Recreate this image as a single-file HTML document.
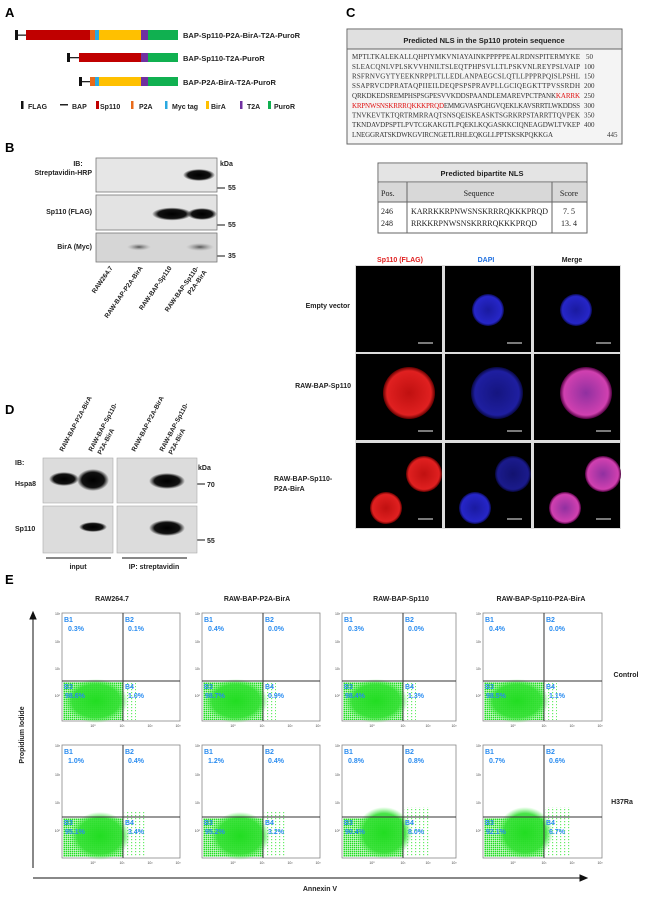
<!DOCTYPE html>
<html><head><meta charset="utf-8"><style>
html,body{margin:0;padding:0;background:#fff;}
svg{display:block;font-family:"Liberation Sans",Arial,sans-serif;}
.b{font-weight:bold;}
.seq{font-family:"Liberation Serif",serif;font-size:7px;fill:#333;}
.q{fill:#2a8cf0;font-size:7px;font-weight:bold;}
.tk{font-size:3.5px;fill:#444;}
</style></head><body>
<svg width="650" height="898" viewBox="0 0 650 898" xmlns="http://www.w3.org/2000/svg">
<defs>
 <pattern id="dots" width="2" height="2" patternUnits="userSpaceOnUse">
  <rect x="0" y="0" width="1.5" height="1.5" fill="#22dd22"/>
 </pattern>
 <pattern id="sdots" width="4" height="3" patternUnits="userSpaceOnUse">
  <rect x="1" y="1" width="1.2" height="1.2" fill="#66ee66"/>
 </pattern>
 <radialGradient id="gcore" cx="0.5" cy="0.5" r="0.5">
  <stop offset="0" stop-color="#22dd22" stop-opacity="1"/>
  <stop offset="0.75" stop-color="#33e033" stop-opacity="0.9"/>
  <stop offset="1" stop-color="#55ee55" stop-opacity="0"/>
 </radialGradient>
 <radialGradient id="red" cx="0.5" cy="0.5" r="0.5">
  <stop offset="0" stop-color="#c01010"/><stop offset="0.85" stop-color="#e02020"/><stop offset="1" stop-color="#600000"/>
 </radialGradient>
 <radialGradient id="blue" cx="0.5" cy="0.5" r="0.5">
  <stop offset="0" stop-color="#1a1aa0"/><stop offset="0.85" stop-color="#2626c8"/><stop offset="1" stop-color="#0a0a50"/>
 </radialGradient>
 <radialGradient id="mag" cx="0.5" cy="0.5" r="0.5">
  <stop offset="0" stop-color="#9030a0"/><stop offset="0.85" stop-color="#d040b0"/><stop offset="1" stop-color="#500040"/>
 </radialGradient>
 <radialGradient id="band" cx="0.5" cy="0.5" r="0.5">
  <stop offset="0" stop-color="#000"/><stop offset="0.7" stop-color="#111"/><stop offset="1" stop-color="#111" stop-opacity="0"/>
 </radialGradient>
 <radialGradient id="fband" cx="0.5" cy="0.5" r="0.5">
  <stop offset="0" stop-color="#555"/><stop offset="1" stop-color="#999" stop-opacity="0"/>
 </radialGradient>
</defs>

<!-- Panel A -->
<text x="5" y="17" class="b" font-size="13">A</text>
<g>
 <rect x="15" y="30" width="3" height="10" fill="#111"/><rect x="18" y="34.5" width="8" height="1.3" fill="#222"/>
 <rect x="26" y="30" width="64" height="10" fill="#c00000"/><rect x="90" y="30" width="5" height="10" fill="#e86a1a"/>
 <rect x="95" y="30" width="4" height="10" fill="#2aa8e0"/><rect x="99" y="30" width="42" height="10" fill="#ffc000"/>
 <rect x="141" y="30" width="7" height="10" fill="#7030a0"/><rect x="148" y="30" width="30" height="10" fill="#10b050"/>
 <text x="183" y="38" class="b" font-size="7.5" fill="#222">BAP-Sp110-P2A-BirA-T2A-PuroR</text>

 <rect x="67" y="53" width="3" height="9" fill="#111"/><rect x="70" y="57" width="9" height="1.3" fill="#222"/>
 <rect x="79" y="53" width="62" height="9" fill="#c00000"/><rect x="141" y="53" width="7" height="9" fill="#7030a0"/>
 <rect x="148" y="53" width="30" height="9" fill="#10b050"/>
 <text x="183" y="61" class="b" font-size="7.5" fill="#222">BAP-Sp110-T2A-PuroR</text>

 <rect x="79" y="77" width="3" height="9" fill="#111"/><rect x="82" y="81" width="8" height="1.3" fill="#222"/>
 <rect x="90" y="77" width="5" height="9" fill="#e86a1a"/><rect x="95" y="77" width="4" height="9" fill="#2aa8e0"/>
 <rect x="99" y="77" width="42" height="9" fill="#ffc000"/><rect x="141" y="77" width="7" height="9" fill="#7030a0"/>
 <rect x="148" y="77" width="30" height="9" fill="#10b050"/>
 <text x="183" y="85" class="b" font-size="7.5" fill="#222">BAP-P2A-BirA-T2A-PuroR</text>

 <g class="b" font-size="7" fill="#222">
  <rect x="21" y="101" width="2.5" height="8" fill="#111"/><text x="28" y="109">FLAG</text>
  <rect x="60" y="104" width="8" height="1.5" fill="#222"/><text x="72" y="109">BAP</text>
  <rect x="96" y="101" width="3" height="8" fill="#c00000"/><text x="100" y="109">Sp110</text>
  <rect x="131" y="101" width="2.5" height="8" fill="#e86a1a"/><text x="139" y="109">P2A</text>
  <rect x="165" y="101" width="2.5" height="8" fill="#2aa8e0"/><text x="172" y="109">Myc tag</text>
  <rect x="206" y="101" width="3" height="8" fill="#ffc000"/><text x="211" y="109">BirA</text>
  <rect x="240" y="101" width="2.5" height="8" fill="#7030a0"/><text x="247" y="109">T2A</text>
  <rect x="268" y="101" width="3" height="8" fill="#10b050"/><text x="274" y="109">PuroR</text>
 </g>
</g>

<!-- Panel B -->
<text x="5" y="152" class="b" font-size="13">B</text>
<g class="b" font-size="7" fill="#222">
 <text x="78" y="166" text-anchor="middle">IB:</text>
 <text x="92" y="175" text-anchor="end">Streptavidin-HRP</text>
 <text x="92" y="214" text-anchor="end">Sp110 (FLAG)</text>
 <text x="92" y="249" text-anchor="end">BirA (Myc)</text>
 <text x="220" y="166">kDa</text>
 <text x="228" y="190">55</text><text x="228" y="227">55</text><text x="228" y="258">35</text>
</g>
<g stroke="#111" stroke-width="1"><line x1="217" y1="188" x2="225" y2="188"/><line x1="217" y1="225" x2="225" y2="225"/><line x1="217" y1="256" x2="225" y2="256"/></g>
<rect x="96" y="158" width="121" height="34" fill="#e6e6e6" stroke="#777" stroke-width="0.8"/>
<rect x="96" y="195" width="121" height="35" fill="#e3e3e3" stroke="#777" stroke-width="0.8"/>
<rect x="96" y="233" width="121" height="29" fill="#d6d6d6" stroke="#777" stroke-width="0.8"/>
<ellipse cx="199" cy="175" rx="16" ry="6" fill="url(#band)"/>
<ellipse cx="172" cy="214" rx="20" ry="6.5" fill="url(#band)"/>
<ellipse cx="202" cy="214" rx="15" ry="6" fill="url(#band)"/>
<ellipse cx="139" cy="247" rx="12" ry="3.5" fill="url(#fband)"/>
<ellipse cx="200" cy="247" rx="14" ry="4" fill="url(#fband)"/>
<g class="b" font-size="6.5" fill="#222">
 <text transform="translate(113,268) rotate(-55)" text-anchor="end">RAW264.7</text>
 <text transform="translate(143,268) rotate(-55)" text-anchor="end">RAW-BAP-P2A-BirA</text>
 <text transform="translate(172,268) rotate(-55)" text-anchor="end">RAW-BAP-Sp110</text>
 <text transform="translate(199,268) rotate(-55)" text-anchor="end">RAW-BAP-Sp110-</text>
 <text transform="translate(207,272) rotate(-55)" text-anchor="end">P2A-BirA</text>
</g>

<!-- Panel D -->
<text x="5" y="414" class="b" font-size="13">D</text>
<g class="b" font-size="6.5" fill="#222">
 <text transform="translate(63,452) rotate(-62)">RAW-BAP-P2A-BirA</text>
 <text transform="translate(92,452) rotate(-62)">RAW-BAP-Sp110-</text>
 <text transform="translate(101,455) rotate(-62)">P2A-BirA</text>
 <text transform="translate(135,452) rotate(-62)">RAW-BAP-P2A-BirA</text>
 <text transform="translate(163,452) rotate(-62)">RAW-BAP-Sp110-</text>
 <text transform="translate(172,455) rotate(-62)">P2A-BirA</text>
</g>
<g class="b" font-size="7" fill="#222">
 <text x="15" y="465">IB:</text>
 <text x="15" y="486">Hspa8</text>
 <text x="15" y="531">Sp110</text>
 <text x="198" y="470">kDa</text>
 <text x="207" y="487">70</text>
 <text x="207" y="543">55</text>
 <text x="78" y="569" text-anchor="middle">input</text>
 <text x="154" y="569" text-anchor="middle">IP: streptavidin</text>
</g>
<g stroke="#111" stroke-width="1"><line x1="196" y1="484" x2="205" y2="484"/><line x1="196" y1="540" x2="205" y2="540"/>
<line x1="46" y1="558" x2="111" y2="558"/><line x1="122" y1="558" x2="187" y2="558"/></g>
<rect x="43" y="458" width="70" height="45" fill="#dcdcdc" stroke="#aaa" stroke-width="0.6"/>
<rect x="117" y="458" width="80" height="45" fill="#dcdcdc" stroke="#aaa" stroke-width="0.6"/>
<rect x="43" y="506" width="70" height="47" fill="#dcdcdc" stroke="#aaa" stroke-width="0.6"/>
<rect x="117" y="506" width="80" height="47" fill="#dcdcdc" stroke="#aaa" stroke-width="0.6"/>
<ellipse cx="64" cy="479" rx="15" ry="7" fill="url(#band)"/>
<ellipse cx="93" cy="480" rx="16" ry="11" fill="url(#band)"/>
<ellipse cx="167" cy="481" rx="18" ry="8" fill="url(#band)"/>
<ellipse cx="93" cy="527" rx="14" ry="5" fill="url(#band)"/>
<ellipse cx="167" cy="528" rx="18" ry="8" fill="url(#band)"/>

<!-- Panel C -->
<text x="346" y="17" class="b" font-size="13">C</text>
<rect x="347" y="29" width="275" height="115" fill="#f4f4f4" stroke="#666" stroke-width="1"/>
<rect x="348" y="30" width="273" height="19" fill="#e0e0e0"/>
<line x1="347" y1="49" x2="622" y2="49" stroke="#666"/>
<text x="484" y="43" text-anchor="middle" class="b" font-size="7.5" fill="#222">Predicted NLS in the Sp110 protein sequence</text>
<g class="seq">
 <text x="352" y="59" textLength="228">MPTLTKALEKALLQHPIYMKVNIAYAINKPPPPPEALRDNSPITERMYKE</text><text x="586" y="59">50</text>
 <text x="352" y="69" textLength="228">SLEACQNLVPLSKVVHNILTSLEQTPHPSVLLTLPSKVNLREYPSLVAIP</text><text x="584" y="69">100</text>
 <text x="352" y="78.5" textLength="228">RSFRNVGYTYEEKNRPPLTLLEDLANPAEGCSLQTLLPPPRPQISLPSHL</text><text x="584" y="78.5">150</text>
 <text x="352" y="88" textLength="228">SSAPRVCDPRATAQPIIEILDEQPSPSPRAVPLLGCIQEGKTTPVSSRDH</text><text x="584" y="88">200</text>
 <text x="352" y="98" textLength="228">QRKDKEDSREMPHSPSGPESVVKDDSPAANDLEMAREVPCTPANK<tspan fill="#e01010">KARRK</tspan></text><text x="584" y="98">250</text>
 <text x="352" y="108" textLength="228"><tspan fill="#e01010">KRPNWSNSKRRRQKKKPRQD</tspan>EMMGVASPGHGVQEKLKAVSRRTLWKDDSS</text><text x="584" y="108">300</text>
 <text x="352" y="117.5" textLength="228">TNVKEVTKTQRTRMRRAQTSNSQEISKEASKTSGRKRPSTARRTTQVPEK</text><text x="584" y="117.5">350</text>
 <text x="352" y="127" textLength="228">TKNDAVDPSPTLPVTCGKAKGTLPQEKLKQGASKKCIQNEAGDWLTVKEP</text><text x="584" y="127">400</text>
 <text x="352" y="137" textLength="201">LNEGGRATSKDWKGVIRCNGETLRHLEQKGLLPPTSKSKPQKKGA</text><text x="607" y="137">445</text>
</g>
<rect x="378" y="163" width="209" height="70" fill="#fff" stroke="#666" stroke-width="1"/>
<rect x="379" y="164" width="207" height="18" fill="#e4e4e4"/>
<rect x="379" y="183" width="207" height="19" fill="#d8d8d8"/>
<g stroke="#666" stroke-width="1"><line x1="378" y1="182" x2="587" y2="182"/><line x1="378" y1="202" x2="587" y2="202"/>
<line x1="407" y1="182" x2="407" y2="233"/><line x1="552" y1="182" x2="552" y2="233"/></g>
<text x="482" y="176" text-anchor="middle" class="b" font-size="7.5" fill="#222">Predicted bipartite NLS</text>
<g font-family="Liberation Serif,serif" font-size="8" fill="#222">
 <text x="381" y="196">Pos.</text><text x="479" y="196" text-anchor="middle">Sequence</text><text x="569" y="196" text-anchor="middle">Score</text>
 <text x="381" y="214">246</text><text x="411" y="214" textLength="137">KARRKKRPNWSNSKRRRQKKKPRQD</text><text x="569" y="214" text-anchor="middle">7. 5</text>
 <text x="381" y="226">248</text><text x="411" y="226" textLength="126">RRKKRPNWSNSKRRRQKKKPRQD</text><text x="569" y="226" text-anchor="middle">13. 4</text>
</g>

<!-- Microscopy -->
<g class="b" font-size="7">
 <text x="400" y="262" text-anchor="middle" fill="#e02020">Sp110 (FLAG)</text>
 <text x="486" y="262" text-anchor="middle" fill="#2070e0">DAPI</text>
 <text x="572" y="262" text-anchor="middle" fill="#222">Merge</text>
 <text x="350" y="308" text-anchor="end" fill="#222">Empty vector</text>
 <text x="351" y="388" text-anchor="end" fill="#222">RAW-BAP-Sp110</text>
 <text x="274" y="481" fill="#222">RAW-BAP-Sp110-</text>
 <text x="274" y="491" fill="#222">P2A-BirA</text>
</g>
<rect x="355" y="265" width="266" height="264" fill="#ddd"/>
<g fill="#000">
 <rect x="356" y="266" width="86" height="86"/><rect x="445" y="266" width="86" height="86"/><rect x="534" y="266" width="86" height="86"/>
 <rect x="356" y="354" width="86" height="86"/><rect x="445" y="354" width="86" height="86"/><rect x="534" y="354" width="86" height="86"/>
 <rect x="356" y="443" width="86" height="85"/><rect x="445" y="443" width="86" height="85"/><rect x="534" y="443" width="86" height="85"/>
</g>
<circle cx="488" cy="310" r="16" fill="url(#blue)"/>
<circle cx="576" cy="310" r="16" fill="url(#blue)"/>
<circle cx="409" cy="393" r="26" fill="url(#red)"/>
<circle cx="497" cy="393" r="26" fill="url(#blue)" opacity="0.8"/>
<circle cx="586" cy="393" r="26" fill="url(#mag)"/>
<circle cx="424" cy="474" r="18" fill="url(#red)"/>
<circle cx="386" cy="508" r="16" fill="url(#red)"/>
<circle cx="513" cy="474" r="18" fill="url(#blue)" opacity="0.7"/>
<circle cx="475" cy="508" r="16" fill="url(#blue)"/>
<circle cx="603" cy="474" r="18" fill="url(#mag)"/>
<circle cx="565" cy="508" r="16" fill="url(#mag)"/>
<g stroke="#ccc" stroke-width="1.2">
 <line x1="418" y1="343" x2="433" y2="343"/><line x1="507" y1="343" x2="522" y2="343"/><line x1="596" y1="343" x2="611" y2="343"/>
 <line x1="418" y1="431" x2="433" y2="431"/><line x1="507" y1="431" x2="522" y2="431"/><line x1="596" y1="431" x2="611" y2="431"/>
 <line x1="418" y1="519" x2="433" y2="519"/><line x1="507" y1="519" x2="522" y2="519"/><line x1="596" y1="519" x2="611" y2="519"/>
</g>

<!-- Panel E -->
<text x="5" y="584" class="b" font-size="13">E</text>
<g class="b" font-size="7" fill="#222" text-anchor="middle">
 <text x="112" y="601">RAW264.7</text>
 <text x="257" y="601">RAW-BAP-P2A-BirA</text>
 <text x="401" y="601">RAW-BAP-Sp110</text>
 <text x="541" y="601">RAW-BAP-Sp110-P2A-BirA</text>
 <text x="626" y="677">Control</text>
 <text x="622" y="804">H37Ra</text>
 <text x="320" y="891">Annexin V</text>
 <text transform="translate(24,735) rotate(-90)">Propidium Iodide</text>
</g>
<g stroke="#111" stroke-width="1">
 <line x1="33" y1="868" x2="33" y2="617"/><polygon points="30,619 36,619 33,612" fill="#111"/>
 <line x1="33" y1="878" x2="582" y2="878"/><polygon points="580,875 580,881 587,878" fill="#111"/>
</g>

<g>
 <g transform="translate(62,613)">
  <rect width="118" height="108" fill="#fff" stroke="#888" stroke-width="0.8"/>
  <rect x="1" y="69" width="60" height="38" fill="url(#dots)"/>
  <ellipse cx="34" cy="88" rx="32" ry="22" fill="url(#gcore)"/>
  <rect x="62" y="69" width="12" height="38" fill="url(#sdots)"/>
  <line x1="61" y1="0" x2="61" y2="108" stroke="#333"/><line x1="0" y1="68" x2="118" y2="68" stroke="#333"/>
 </g>
 <g transform="translate(202,613)">
  <rect width="118" height="108" fill="#fff" stroke="#888" stroke-width="0.8"/>
  <rect x="1" y="69" width="60" height="38" fill="url(#dots)"/>
  <ellipse cx="34" cy="88" rx="32" ry="22" fill="url(#gcore)"/>
  <rect x="62" y="69" width="12" height="38" fill="url(#sdots)"/>
  <line x1="61" y1="0" x2="61" y2="108" stroke="#333"/><line x1="0" y1="68" x2="118" y2="68" stroke="#333"/>
 </g>
 <g transform="translate(342,613)">
  <rect width="114" height="108" fill="#fff" stroke="#888" stroke-width="0.8"/>
  <rect x="1" y="69" width="60" height="38" fill="url(#dots)"/>
  <ellipse cx="34" cy="88" rx="32" ry="22" fill="url(#gcore)"/>
  <rect x="62" y="69" width="12" height="38" fill="url(#sdots)"/>
  <line x1="61" y1="0" x2="61" y2="108" stroke="#333"/><line x1="0" y1="68" x2="114" y2="68" stroke="#333"/>
 </g>
 <g transform="translate(483,613)">
  <rect width="119" height="108" fill="#fff" stroke="#888" stroke-width="0.8"/>
  <rect x="1" y="69" width="60" height="38" fill="url(#dots)"/>
  <ellipse cx="34" cy="88" rx="32" ry="22" fill="url(#gcore)"/>
  <rect x="62" y="69" width="12" height="38" fill="url(#sdots)"/>
  <line x1="61" y1="0" x2="61" y2="108" stroke="#333"/><line x1="0" y1="68" x2="119" y2="68" stroke="#333"/>
 </g>
 <g transform="translate(62,745)">
  <rect width="118" height="113" fill="#fff" stroke="#888" stroke-width="0.8"/>
  <rect x="1" y="73" width="60" height="39" fill="url(#dots)"/>
  <ellipse cx="38" cy="91" rx="30" ry="24" fill="url(#gcore)"/>
  <rect x="62" y="66" width="22" height="46" fill="url(#sdots)"/>
  <line x1="61" y1="0" x2="61" y2="113" stroke="#333"/><line x1="0" y1="72" x2="118" y2="72" stroke="#333"/>
 </g>
 <g transform="translate(202,745)">
  <rect width="118" height="113" fill="#fff" stroke="#888" stroke-width="0.8"/>
  <rect x="1" y="73" width="60" height="39" fill="url(#dots)"/>
  <ellipse cx="38" cy="91" rx="30" ry="24" fill="url(#gcore)"/>
  <rect x="62" y="66" width="22" height="46" fill="url(#sdots)"/>
  <line x1="61" y1="0" x2="61" y2="113" stroke="#333"/><line x1="0" y1="72" x2="118" y2="72" stroke="#333"/>
 </g>
 <g transform="translate(342,745)">
  <rect width="114" height="113" fill="#fff" stroke="#888" stroke-width="0.8"/>
  <rect x="1" y="73" width="60" height="39" fill="url(#dots)"/>
  <ellipse cx="42" cy="88" rx="28" ry="26" fill="url(#gcore)"/>
  <rect x="62" y="62" width="26" height="50" fill="url(#sdots)"/>
  <line x1="61" y1="0" x2="61" y2="113" stroke="#333"/><line x1="0" y1="72" x2="114" y2="72" stroke="#333"/>
 </g>
 <g transform="translate(483,745)">
  <rect width="119" height="113" fill="#fff" stroke="#888" stroke-width="0.8"/>
  <rect x="1" y="73" width="60" height="39" fill="url(#dots)"/>
  <ellipse cx="42" cy="88" rx="28" ry="26" fill="url(#gcore)"/>
  <rect x="62" y="62" width="26" height="50" fill="url(#sdots)"/>
  <line x1="61" y1="0" x2="61" y2="113" stroke="#333"/><line x1="0" y1="72" x2="119" y2="72" stroke="#333"/>
 </g>
</g>
<g class="q">
 <text x="64" y="622">B1</text><text x="68" y="631">0.3%</text><text x="125" y="622">B2</text><text x="128" y="631">0.1%</text>
 <text x="64" y="689">B3</text><text x="65" y="698">98.6%</text><text x="125" y="689">B4</text><text x="128" y="698">1.0%</text>
 <text x="204" y="622">B1</text><text x="208" y="631">0.4%</text><text x="265" y="622">B2</text><text x="268" y="631">0.0%</text>
 <text x="204" y="689">B3</text><text x="205" y="698">98.7%</text><text x="265" y="689">B4</text><text x="268" y="698">0.9%</text>
 <text x="344" y="622">B1</text><text x="348" y="631">0.3%</text><text x="405" y="622">B2</text><text x="408" y="631">0.0%</text>
 <text x="344" y="689">B3</text><text x="345" y="698">98.4%</text><text x="405" y="689">B4</text><text x="408" y="698">1.3%</text>
 <text x="485" y="622">B1</text><text x="489" y="631">0.4%</text><text x="546" y="622">B2</text><text x="549" y="631">0.0%</text>
 <text x="485" y="689">B3</text><text x="486" y="698">98.5%</text><text x="546" y="689">B4</text><text x="549" y="698">1.1%</text>

 <text x="64" y="754">B1</text><text x="68" y="763">1.0%</text><text x="125" y="754">B2</text><text x="128" y="763">0.4%</text>
 <text x="64" y="825">B3</text><text x="65" y="834">95.1%</text><text x="125" y="825">B4</text><text x="128" y="834">3.4%</text>
 <text x="204" y="754">B1</text><text x="208" y="763">1.2%</text><text x="265" y="754">B2</text><text x="268" y="763">0.4%</text>
 <text x="204" y="825">B3</text><text x="205" y="834">95.2%</text><text x="265" y="825">B4</text><text x="268" y="834">3.2%</text>
 <text x="344" y="754">B1</text><text x="348" y="763">0.8%</text><text x="405" y="754">B2</text><text x="408" y="763">0.8%</text>
 <text x="344" y="825">B3</text><text x="345" y="834">90.4%</text><text x="405" y="825">B4</text><text x="408" y="834">8.0%</text>
 <text x="485" y="754">B1</text><text x="489" y="763">0.7%</text><text x="546" y="754">B2</text><text x="549" y="763">0.6%</text>
 <text x="485" y="825">B3</text><text x="486" y="834">92.1%</text><text x="546" y="825">B4</text><text x="549" y="834">6.7%</text>
</g>
<g class="tk" text-anchor="end">
 <text x="60" y="615">10³</text><text x="60" y="643">10²</text><text x="60" y="670">10¹</text><text x="60" y="697">10⁰</text>
 <text x="200" y="615">10³</text><text x="200" y="643">10²</text><text x="200" y="670">10¹</text><text x="200" y="697">10⁰</text>
 <text x="340" y="615">10³</text><text x="340" y="643">10²</text><text x="340" y="670">10¹</text><text x="340" y="697">10⁰</text>
 <text x="481" y="615">10³</text><text x="481" y="643">10²</text><text x="481" y="670">10¹</text><text x="481" y="697">10⁰</text>
 <text x="60" y="747">10³</text><text x="60" y="776">10²</text><text x="60" y="804">10¹</text><text x="60" y="832">10⁰</text>
 <text x="200" y="747">10³</text><text x="200" y="776">10²</text><text x="200" y="804">10¹</text><text x="200" y="832">10⁰</text>
 <text x="340" y="747">10³</text><text x="340" y="776">10²</text><text x="340" y="804">10¹</text><text x="340" y="832">10⁰</text>
 <text x="481" y="747">10³</text><text x="481" y="776">10²</text><text x="481" y="804">10¹</text><text x="481" y="832">10⁰</text>
</g>
<g class="tk" text-anchor="middle">
 <text x="93" y="727">10⁰</text><text x="122" y="727">10¹</text><text x="150" y="727">10²</text><text x="178" y="727">10³</text>
 <text x="233" y="727">10⁰</text><text x="262" y="727">10¹</text><text x="290" y="727">10²</text><text x="318" y="727">10³</text>
 <text x="372" y="727">10⁰</text><text x="403" y="727">10¹</text><text x="428" y="727">10²</text><text x="454" y="727">10³</text>
 <text x="513" y="727">10⁰</text><text x="544" y="727">10¹</text><text x="572" y="727">10²</text><text x="600" y="727">10³</text>
 <text x="93" y="864">10⁰</text><text x="122" y="864">10¹</text><text x="150" y="864">10²</text><text x="178" y="864">10³</text>
 <text x="233" y="864">10⁰</text><text x="262" y="864">10¹</text><text x="290" y="864">10²</text><text x="318" y="864">10³</text>
 <text x="372" y="864">10⁰</text><text x="403" y="864">10¹</text><text x="428" y="864">10²</text><text x="454" y="864">10³</text>
 <text x="513" y="864">10⁰</text><text x="544" y="864">10¹</text><text x="572" y="864">10²</text><text x="600" y="864">10³</text>
</g>
</svg>
</body></html>
